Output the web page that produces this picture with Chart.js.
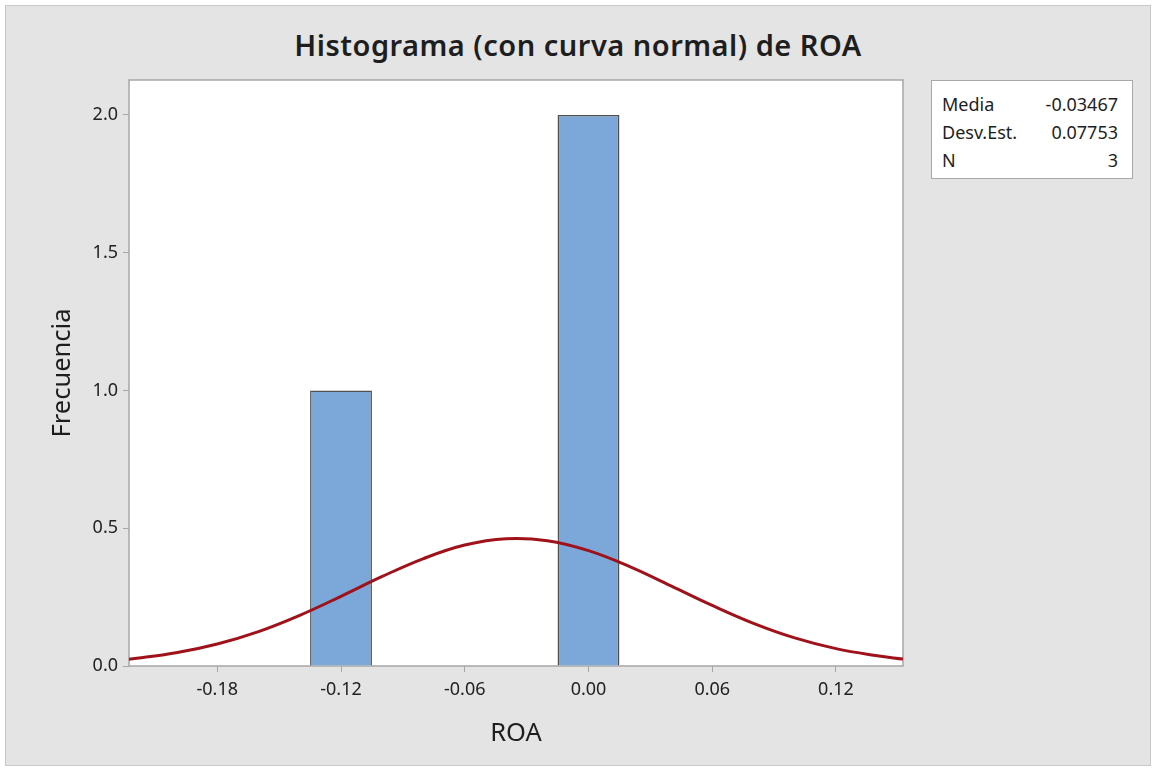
<!DOCTYPE html>
<html>
<head>
<meta charset="utf-8">
<script src="https://cdn.jsdelivr.net/npm/chart.js@4/dist/chart.umd.min.js"></script>
<style>
  body { margin: 0; background: #ffffff; font-family: "Noto Sans", "Open Sans", sans-serif; }
  .frame {
    position: absolute; left: 5px; top: 5px; width: 1144px; height: 759px;
    background: #e4e4e4; border: 1px solid #c8c8c8;
  }
  .title {
    position: absolute; left: 0; top: 25px; width: 1156px; text-align: center;
    font-size: 29px; font-weight: 600; letter-spacing: 0.5px; color: #1e1e1e;
  }
  .stats {
    position: absolute; left: 931px; top: 80px; width: 200px; height: 97px;
    background: #fff; border: 1px solid #a8a8a8; font-size: 18px; color: #1e1e1e;
  }
  .stats .row { display: flex; justify-content: space-between; padding: 0 14px 0 10px; height: 28px; line-height: 28px; }
  .stats .row:first-child { margin-top: 9px; }
  canvas { position: absolute; left: 0; top: 0; }
</style>
</head>
<body>
<div class="frame"></div>
<div class="title">Histograma (con curva normal) de ROA</div>
<div class="stats">
  <div class="row"><span>Media</span><span>-0.03467</span></div>
  <div class="row"><span>Desv.Est.</span><span>0.07753</span></div>
  <div class="row"><span>N</span><span>3</span></div>
</div>
<canvas id="chart" width="1156" height="770"></canvas>
<script>
// histogram bins (midpoints) and counts
const binMids = [-0.12, 0.00];
const binCounts = [1, 2];

// fitted normal curve
const curveX = [-0.2228, -0.20, -0.18, -0.16, -0.14, -0.12, -0.10, -0.08, -0.06, -0.04,
                -0.02, 0.00, 0.02, 0.04, 0.06, 0.08, 0.10, 0.12, 0.14, 0.1525];
const curveY = [0.024, 0.048, 0.080, 0.125, 0.184, 0.253, 0.325, 0.390, 0.439, 0.462,
                0.455, 0.419, 0.361, 0.291, 0.220, 0.155, 0.102, 0.063, 0.037, 0.025];

const xTicks = [-0.18, -0.12, -0.06, 0.00, 0.06, 0.12];
const yTicks = [0, 0.5, 1.0, 1.5, 2.0];

const plotBox = {
  id: "plotBox",
  beforeDraw(chart) {
    const a = chart.chartArea;
    const c = chart.ctx;
    c.save();
    c.fillStyle = "#ffffff";
    c.fillRect(a.left, a.top, a.right - a.left, a.bottom - a.top);
    c.strokeStyle = "#a6a6a6";
    c.lineWidth = 1.5;
    c.strokeRect(a.left, a.top, a.right - a.left, a.bottom - a.top);
    c.restore();
  }
};

new Chart(document.getElementById("chart"), {
  type: "bar",
  data: {
    datasets: [
      {
        type: "line",
        data: curveX.map((x, i) => ({ x: x, y: curveY[i] })),
        borderColor: "#a0121a",
        borderWidth: 3,
        pointRadius: 0,
        tension: 0.4,
        order: 0
      },
      {
        data: binMids.map((x, i) => ({ x: x, y: binCounts[i] })),
        backgroundColor: "#7ba7d9",
        borderColor: "#505050",
        borderWidth: 1.5,
        barPercentage: 0.5,
        categoryPercentage: 1,
        order: 1
      }
    ]
  },
  options: {
    responsive: false,
    animation: false,
    layout: { padding: { left: 0, top: 80, right: 253, bottom: 0 } },
    plugins: { legend: { display: false }, tooltip: { enabled: false } },
    scales: {
      x: {
        type: "linear",
        offset: false,
        min: -0.2228,
        max: 0.1525,
        afterFit: s => { s.height = 104; },
        afterBuildTicks: s => { s.ticks = xTicks.map(v => ({ value: v })); },
        grid: { offset: false, drawOnChartArea: false, tickLength: 6, color: "#a6a6a6" },
        border: { display: false },
        ticks: {
          padding: 7,
          color: "#222222",
          font: { size: 18, family: "Noto Sans" },
          callback: v => v.toFixed(2)
        },
        title: {
          display: true,
          text: "ROA",
          color: "#1e1e1e",
          font: { size: 25.5, family: "Noto Sans" },
          padding: { bottom: 21 }
        }
      },
      y: {
        min: 0,
        max: 2.127,
        afterFit: s => { s.width = 129; },
        afterBuildTicks: s => { s.ticks = yTicks.map(v => ({ value: v })); },
        grid: { drawOnChartArea: false, tickLength: 6, color: "#a6a6a6" },
        border: { display: false },
        ticks: {
          padding: 5,
          color: "#222222",
          font: { size: 18, family: "Noto Sans" },
          callback: v => v.toFixed(1)
        },
        title: {
          display: true,
          text: "Frecuencia",
          color: "#1e1e1e",
          font: { size: 25.5, family: "Noto Sans" },
          padding: { top: 47 }
        }
      }
    }
  },
  plugins: [plotBox]
});
</script>
</body>
</html>
